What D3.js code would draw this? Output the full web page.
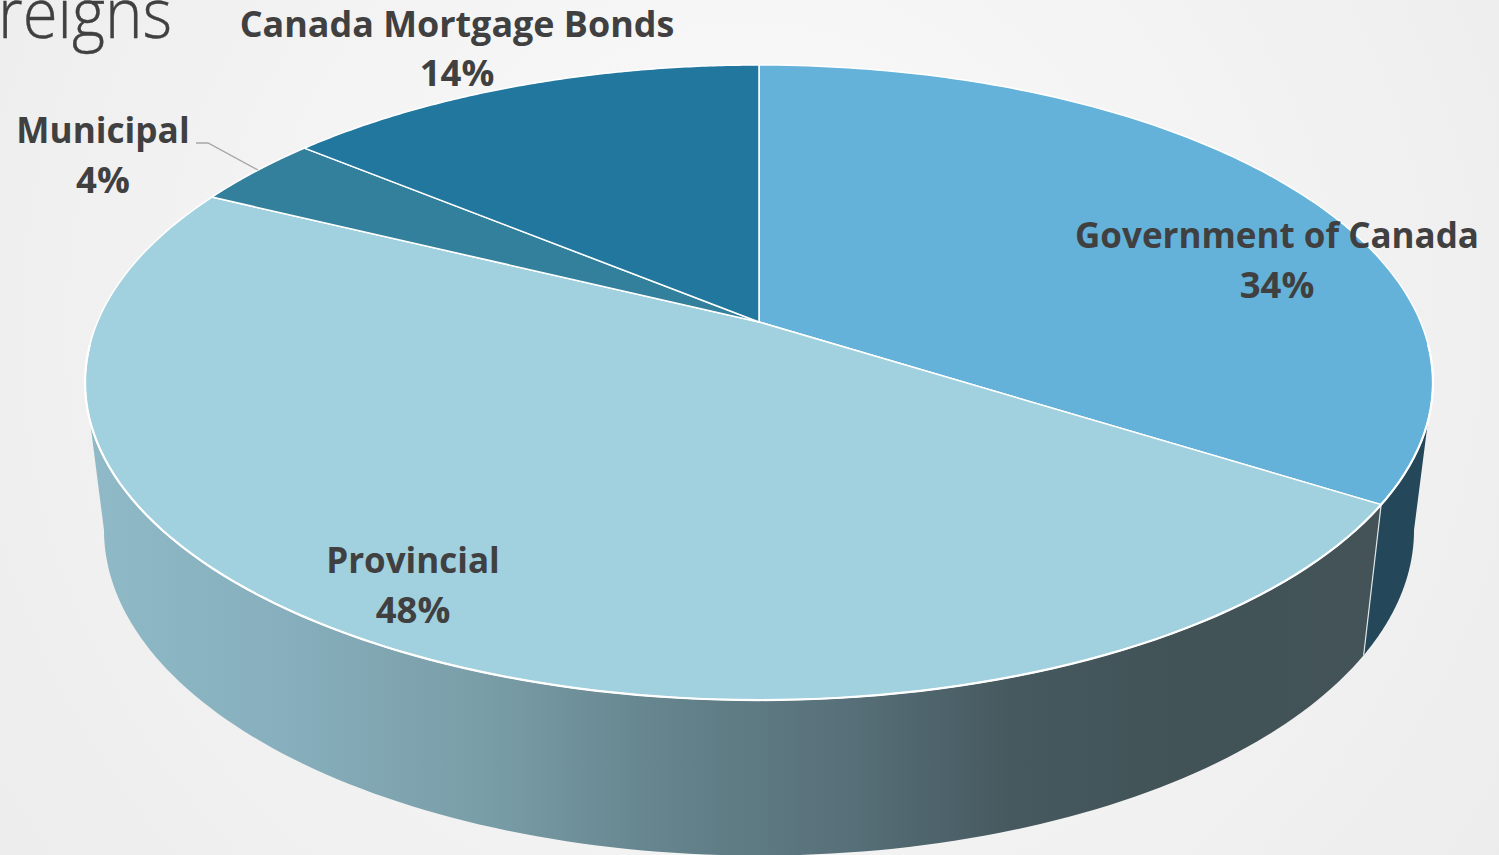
<!DOCTYPE html>
<html><head><meta charset="utf-8">
<script src="https://cdnjs.cloudflare.com/ajax/libs/d3/7.8.5/d3.min.js"></script>
<style>html,body{margin:0;padding:0;overflow:hidden;background:#f3f3f3}svg{display:block}</style>
</head><body><svg id="c" width="1499" height="855"></svg>
<script>
const categories = ["Government of Canada","Provincial","Municipal","Canada Mortgage Bonds"];
const values = [34, 48.3, 3.7, 14];
const percentLabels = ["34%","48%","4%","14%"];
const topColors = ["#64b2d9","#a1d0df","#32809b","#22779f"];
const sideColors = ["#24475a","url(#sideGrad)","#1d4b5e","#154a63"];
const titleFragment = "reigns";
const labelPos = [[1277,236,286],[413,561,611],[103,131,181],[457,25,74]];
const labelSizes = [35,35,35.2,35.9];

const svg = d3.select("#c");
const defs = svg.append("defs");
const bg = defs.append("radialGradient").attr("id","bg").attr("gradientUnits","userSpaceOnUse")
  .attr("cx",750).attr("cy",330).attr("r",1000);
bg.append("stop").attr("offset",0).attr("stop-color","#fbfbfb");
bg.append("stop").attr("offset",1).attr("stop-color","#ebebeb");
const sg = defs.append("linearGradient").attr("id","sideGrad").attr("gradientUnits","userSpaceOnUse")
  .attr("x1",100).attr("x2",1365).attr("y1",0).attr("y2",0);
[[0,"#8fb9c6"],[0.14,"#87afbd"],[0.3,"#7a9ea8"],[0.45,"#64838c"],[0.6,"#566e77"],[0.72,"#46595f"],[0.85,"#415357"],[1,"#435358"]]
 .forEach(s=>sg.append("stop").attr("offset",s[0]).attr("stop-color",s[1]));
svg.append("rect").attr("width",1499).attr("height",855).attr("fill","url(#bg)");

// perspective projections of the top and bottom discs
const k = 0.1906;
const proj = (cx,cy,a,b) => t => {
  const u = Math.sin(t), v = Math.cos(t), d = 1 + k*v;
  return [cx + b*u/d, cy - a*v/d];
};
const topP = proj(759,322,306,661.6);
const botP = proj(759,468,313.7,643);

const arcs = d3.pie().sort(null).value(d=>d)(values);
const line = d3.line();
const span = (p,a,b) => d3.range(0,121).map(i=>p(a+(b-a)*i/120));
const widest = Math.PI/2 + Math.asin(k);        // silhouette on the right
const widestL = 2*Math.PI - widest;             // silhouette on the left

// side wall
arcs.forEach((d,i)=>{
  const a = Math.max(d.startAngle,widest), b = Math.min(d.endAngle,widestL);
  if (b<=a) return;
  const pts = span(topP,a,b).concat(span(botP,a,b).reverse());
  svg.append("path").attr("d",line(pts)+"Z").attr("fill",sideColors[i]);
});
// white edge on the wall at the slice boundary
{
  const t = arcs[0].endAngle;
  svg.append("path").attr("d",line([topP(t),botP(t)])).attr("stroke","#dfe6e8").attr("stroke-width",1.2).attr("fill","none");
}
// top face
arcs.forEach((d,i)=>{
  const pts = [[759,322]].concat(span(topP,d.startAngle,d.endAngle));
  svg.append("path").attr("d",line(pts)+"Z").attr("fill",topColors[i])
    .attr("stroke","#fff").attr("stroke-width",1.5).attr("stroke-linejoin","round");
});
// brighter rim along the front of the top face
svg.append("path").attr("d",line(span(topP,widest-0.12,widestL+0.12)))
  .attr("fill","none").attr("stroke","#fff").attr("stroke-width",2.2);

// leader line
svg.append("path").attr("d",line([[196,143],[208,143],[258,170]]))
  .attr("fill","none").attr("stroke","#a6a6a6").attr("stroke-width",1.3);

// labels
const font = "'Open Sans','Noto Sans',sans-serif";
categories.forEach((c,i)=>{
  const p = labelPos[i];
  const g = svg.append("g").attr("font-family",font).attr("font-weight",700)
    .attr("fill","#404040").attr("text-anchor","middle");
  g.append("text").attr("x",p[0]).attr("y",p[1]+12).attr("font-size",labelSizes[i]).text(c);
  g.append("text").attr("x",p[0]).attr("y",p[2]+12).attr("font-size",36.5).text(percentLabels[i]);
});
svg.append("text").attr("x",-2).attr("y",38).attr("font-family",font).attr("font-weight",300)
  .attr("font-size",70).attr("textLength",174).attr("lengthAdjust","spacingAndGlyphs")
  .attr("fill","#404040").attr("stroke","#404040").attr("stroke-width",0.4).text(titleFragment);
</script></body></html>
